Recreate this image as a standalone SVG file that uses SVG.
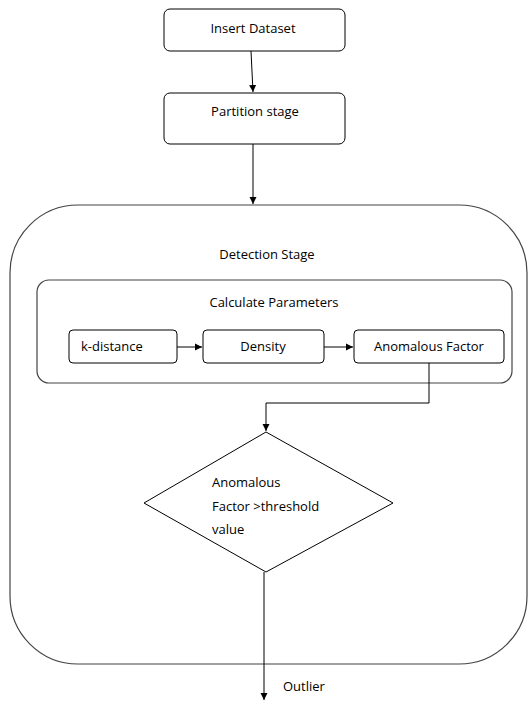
<svg xmlns="http://www.w3.org/2000/svg" width="531" height="701" viewBox="0 0 531 701">
<style>
.box{fill:#fff;stroke:#000;stroke-width:1}
.frame{fill:none;stroke:#444;stroke-width:1.2}
.t{font-family:"Open Sans","Liberation Sans",sans-serif;font-size:13px;fill:#000}
.c{stroke:#000;stroke-width:1;fill:none}
</style>
<defs>
<marker id="ah" markerWidth="8" markerHeight="8" refX="7" refY="4" orient="auto" markerUnits="userSpaceOnUse">
<path d="M0,0.5 L7,4 L0,7.5 Z" fill="#000"/>
</marker>
</defs>
<rect width="531" height="701" fill="#fff"/>
<g id="detection-stage">
<rect class="frame" x="10" y="205" width="517" height="459" rx="68" ry="68"/>
<text class="t" x="267" y="259" text-anchor="middle">Detection Stage</text>
</g>
<g id="calculate-parameters">
<rect class="frame" x="37" y="280" width="475" height="103" rx="12" ry="12"/>
<text class="t" x="274" y="307" text-anchor="middle">Calculate Parameters</text>
</g>
<g id="insert-dataset">
<rect class="box" x="164" y="9" width="181" height="42" rx="6" ry="6"/>
<text class="t" x="253" y="33" text-anchor="middle">Insert Dataset</text>
</g>
<g id="partition-stage">
<rect class="box" x="164" y="93" width="181" height="51" rx="6" ry="6"/>
<text class="t" x="255" y="116" text-anchor="middle">Partition stage</text>
</g>
<g id="k-distance">
<rect class="box" x="69" y="330" width="108" height="33" rx="4" ry="4"/>
<text class="t" x="81" y="351">k-distance</text>
</g>
<g id="density">
<rect class="box" x="203" y="330" width="121" height="33" rx="4" ry="4"/>
<text class="t" x="263" y="351" text-anchor="middle">Density</text>
</g>
<g id="anomalous-factor">
<rect class="box" x="354" y="330" width="150" height="33" rx="4" ry="4"/>
<text class="t" x="429" y="351" text-anchor="middle">Anomalous Factor</text>
</g>
<g id="decision">
<polygon class="box" points="266,432 393,503 266,572 144,503"/>
<text class="t" x="212" y="487">Anomalous</text>
<text class="t" x="212" y="511">Factor &gt;threshold</text>
<text class="t" x="212" y="534">value</text>
</g>
<g id="outlier-label">
<text class="t" x="283" y="691">Outlier</text>
</g>
<g id="connectors">
<line class="c" x1="251" y1="51" x2="253" y2="92" marker-end="url(#ah)"/>
<line class="c" x1="253" y1="144" x2="253" y2="204" marker-end="url(#ah)"/>
<line class="c" x1="177" y1="347" x2="202" y2="347" marker-end="url(#ah)"/>
<line class="c" x1="324" y1="347" x2="353" y2="347" marker-end="url(#ah)"/>
<polyline class="c" points="429,363 429,403 266,403 266,431" marker-end="url(#ah)"/>
<line class="c" x1="264" y1="572" x2="264" y2="700" marker-end="url(#ah)"/>
</g>
</svg>
